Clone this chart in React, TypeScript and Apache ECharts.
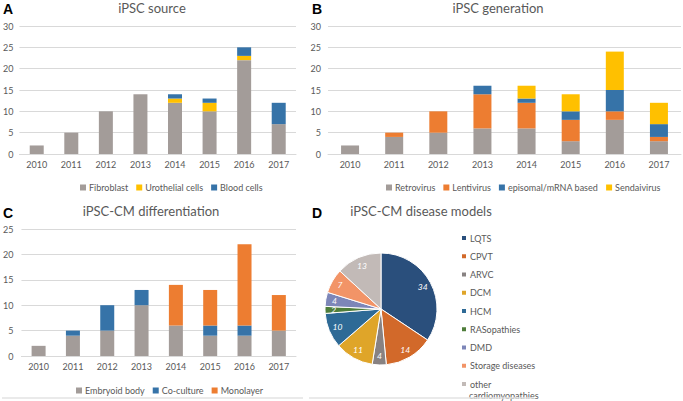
import React, { useEffect, useRef } from "react";
import * as echarts from "echarts";

const years = ["2010", "2011", "2012", "2013", "2014", "2015", "2016", "2017"];

// Panel A: iPSC source
const fibroblast = [2, 5, 10, 14, 12, 10, 22, 7];
const urothelial = [0, 0, 0, 0, 1, 2, 1, 0];
const blood = [0, 0, 0, 0, 1, 1, 2, 5];

// Panel B: iPSC generation
const retrovirus = [2, 4, 5, 6, 6, 3, 8, 3];
const lentivirus = [0, 1, 5, 8, 6, 5, 2, 1];
const episomal = [0, 0, 0, 2, 1, 2, 5, 3];
const sendai = [0, 0, 0, 0, 3, 4, 9, 5];

// Panel C: iPSC-CM differentiation
const embryoid = [2, 4, 5, 10, 6, 4, 4, 5];
const coculture = [0, 1, 5, 3, 0, 2, 2, 0];
const monolayer = [0, 0, 0, 0, 8, 7, 16, 7];

// Panel D: disease models
const diseaseNames = [
  "LQTS",
  "CPVT",
  "ARVC",
  "DCM",
  "HCM",
  "RASopathies",
  "DMD",
  "Storage diseases",
  "other cardiomyopathies",
];
const diseaseValues = [34, 14, 4, 11, 10, 2, 4, 7, 13];
const diseaseColors = [
  "#2a4f7c",
  "#d2692a",
  "#888282",
  "#dfa529",
  "#2e6a96",
  "#4e7d3a",
  "#7d86b8",
  "#f29467",
  "#c2bab7",
];

const GRAY = "#a39c99";
const ORANGE = "#ed7d31";
const BLUE = "#3673a8";
const YELLOW = "#ffc000";
const TXT = "#595959";
const FONT = "Lato, 'Liberation Sans', sans-serif";

export default function App() {
  const ref = useRef<HTMLDivElement>(null);

  useEffect(() => {
    if (!ref.current) return;
    const chart = echarts.init(ref.current, undefined, { renderer: "svg" });

    const grids = [
      { left: 19, top: 26, width: 277, height: 128 },
      { left: 328, top: 26, width: 353, height: 128 },
      { left: 19, top: 229, width: 277, height: 127 },
    ];

    const xAxes = grids.map((_, i) => ({
      type: "category",
      gridIndex: i,
      data: years,
      axisLine: { lineStyle: { color: "#d9d9d9" } },
      axisTick: { show: false },
      axisLabel: { color: TXT, fontSize: 9, fontFamily: FONT, margin: 6 },
    }));

    const yAxes = [
      { max: 30, margin: 6 },
      { max: 30, margin: 7 },
      { max: 25, margin: 8 },
    ].map((a, i) => ({
      type: "value",
      gridIndex: i,
      min: 0,
      max: a.max,
      interval: 5,
      axisLine: { show: false },
      axisTick: { show: false },
      splitLine: { lineStyle: { color: "#d9d9d9" } },
      axisLabel: { color: TXT, fontSize: 9, fontFamily: FONT, margin: a.margin },
    }));

    const bar = (name: string, data: number[], color: string, idx: number, stack: string, w: number) => ({
      type: "bar",
      name,
      data,
      stack,
      xAxisIndex: idx,
      yAxisIndex: idx,
      barWidth: w,
      itemStyle: { color },
    });

    const legendCommon = {
      icon: "rect",
      itemWidth: 6,
      itemHeight: 6,
      itemGap: 8,
      textStyle: { color: TXT, fontSize: 9, fontFamily: FONT, padding: [0, 0, 0, -2] },
    };

    const inner = 56 * 0.58;

    chart.setOption({
      animation: false,
      backgroundColor: "#ffffff",
      grid: grids,
      xAxis: xAxes,
      yAxis: yAxes,
      legend: [
        { ...legendCommon, left: 75, top: 178, data: ["Fibroblast", "Urothelial cells", "Blood cells"] },
        {
          ...legendCommon,
          left: 381,
          top: 178,
          data: ["Retrovirus", "Lentivirus", "episomal/mRNA based", "Sendaivirus"],
        },
        { ...legendCommon, left: 71, top: 381, data: ["Embryoid body", "Co-culture", "Monolayer"] },
        {
          ...legendCommon,
          orient: "vertical",
          left: 460,
          top: 232.5,
          height: 200,
          padding: 0,
          itemGap: 7.25,
          textStyle: { color: TXT, fontSize: 9, fontFamily: FONT, lineHeight: 11, padding: [0, 0, 0, -2] },
          formatter: (n: string) => n.replace(" cardiomyopathies", ""),
          data: diseaseNames.map((n, i) => ({ name: n, itemStyle: { color: diseaseColors[i] } })),
        },
      ],
      series: [
        bar("Fibroblast", fibroblast, GRAY, 0, "a", 14),
        bar("Urothelial cells", urothelial, YELLOW, 0, "a", 14),
        bar("Blood cells", blood, BLUE, 0, "a", 14),
        bar("Retrovirus", retrovirus, GRAY, 1, "b", 18),
        bar("Lentivirus", lentivirus, ORANGE, 1, "b", 18),
        bar("episomal/mRNA based", episomal, BLUE, 1, "b", 18),
        bar("Sendaivirus", sendai, YELLOW, 1, "b", 18),
        bar("Embryoid body", embryoid, GRAY, 2, "c", 14),
        bar("Co-culture", coculture, BLUE, 2, "c", 14),
        bar("Monolayer", monolayer, ORANGE, 2, "c", 14),
        {
          type: "pie",
          name: "disease",
          center: [381, 309],
          radius: [0, 56],
          startAngle: 90,
          clockwise: true,
          label: { show: false },
          labelLine: { show: false },
          itemStyle: { borderColor: "#ffffff", borderWidth: 1 },
          data: diseaseNames.map((n, i) => ({
            name: n,
            value: diseaseValues[i],
            itemStyle: { color: diseaseColors[i] },
          })),
        },
        {
          type: "pie",
          name: "labels",
          silent: true,
          center: [381, 309],
          radius: [inner, 56],
          startAngle: 90,
          clockwise: true,
          legendHoverLink: false,
          itemStyle: { color: "rgba(0,0,0,0)", borderWidth: 0 },
          label: {
            show: true,
            position: "inside",
            color: "#ffffff",
            fontSize: 8.5,
            fontStyle: "italic",
            fontFamily: FONT,
            formatter: "{c}",
          },
          labelLine: { show: false },
          data: diseaseNames.map((n, i) => ({ name: n, value: diseaseValues[i] })),
        },
      ],
      graphic: [
        { type: "text", left: 3, top: 2, style: { text: "A", font: "bold 14px 'Liberation Sans', Arial", fill: "#000" } },
        { type: "text", left: 312, top: 2, style: { text: "B", font: "bold 14px 'Liberation Sans', Arial", fill: "#000" } },
        { type: "text", left: 3, top: 206, style: { text: "C", font: "bold 14px 'Liberation Sans', Arial", fill: "#000" } },
        { type: "text", left: 312, top: 206, style: { text: "D", font: "bold 14px 'Liberation Sans', Arial", fill: "#000" } },
        {
          type: "text",
          x: 152,
          y: 8,
          style: { text: "iPSC source", font: `13px ${FONT}`, fill: TXT, align: "center", verticalAlign: "middle" },
        },
        {
          type: "text",
          x: 498,
          y: 8,
          style: { text: "iPSC generation", font: `13px ${FONT}`, fill: TXT, align: "center", verticalAlign: "middle" },
        },
        {
          type: "text",
          x: 151,
          y: 211,
          style: {
            text: "iPSC-CM differentiation",
            font: `13px ${FONT}`,
            fill: TXT,
            align: "center",
            verticalAlign: "middle",
          },
        },
        {
          type: "text",
          x: 421,
          y: 211,
          style: {
            text: "iPSC-CM disease models",
            font: `13px ${FONT}`,
            fill: TXT,
            align: "center",
            verticalAlign: "middle",
          },
        },
        {
          type: "text",
          x: 469,
          y: 395,
          style: { text: "cardiomyopathies", font: `9px ${FONT}`, fill: TXT, align: "left", verticalAlign: "middle" },
        },
        { type: "line", shape: { x1: 2, y1: 398, x2: 303, y2: 398 }, style: { stroke: "#e3e3e3", lineWidth: 1.5 } },
        { type: "line", shape: { x1: 309, y1: 398, x2: 534, y2: 398 }, style: { stroke: "#e3e3e3", lineWidth: 1.5 } },
      ],
    });

    return () => chart.dispose();
  }, []);

  return (
    <div
      ref={ref}
      style={{ position: "fixed", left: 0, top: 0, width: 683, height: 401, background: "#fff" }}
    />
  );
}
